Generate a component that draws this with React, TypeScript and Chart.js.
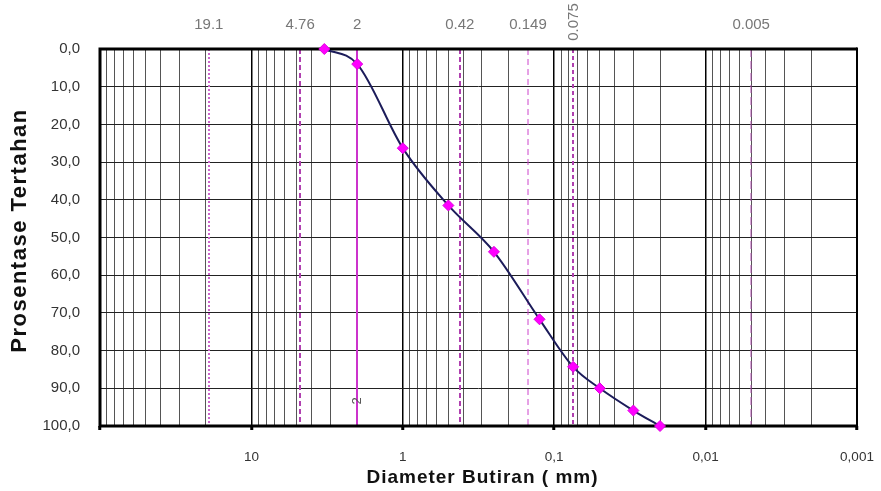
import React, { useEffect, useRef } from "react";
import { Chart, registerables } from "chart.js";

Chart.register(...registerables);

// Grain size data (diameter in mm, percentage retained)
const diameters = [3.3, 2.0, 1.0, 0.5, 0.25, 0.125, 0.075, 0.05, 0.03, 0.02];
const retained = [0.0, 4.0, 26.3, 41.5, 53.8, 71.7, 84.3, 90.0, 95.9, 100.0];

// Sieve reference lines
const sieveSizes = [19.1, 4.76, 2, 0.42, 0.149, 0.075, 0.005];
const sieveLabels = ["19.1", "4.76", "2", "0.42", "0.149", "0.075", "0.005"];
const sieveDash = [[2, 2], [5, 3], [], [5, 3], [6, 4], [4, 3], [8, 4]];
const sieveWidth = [2, 2, 2, 2, 1, 2, 1];
const sieveColor = ["#cc66cc", "#b040b0", "#cc33cc", "#b040b0", "#cc44cc", "#b040b0", "#b050b0"];

// Axis tick labels / titles
const xDecades = [100, 10, 1, 0.1, 0.01, 0.001];
const xDecadeLabels = ["", "10", "1", "0,1", "0,01", "0,001"];
const yMin = 0;
const yMax = 100;
const xTitle = "Diameter Butiran ( mm)";
const yTitle = "Prosentase Tertahan";

const FONT = "'Liberation Sans', Arial, Helvetica, sans-serif";

function isDecade(v: number) {
  return xDecades.some((d) => Math.abs(v - d) / d < 1e-6);
}

const decorPlugin = {
  id: "decor",
  beforeDatasetsDraw(chart: any) {
    const { ctx, chartArea } = chart;
    const xs = chart.scales.x;
    ctx.save();
    // reference sieve lines
    sieveSizes.forEach((s, i) => {
      const px = Math.round(xs.getPixelForValue(s));
      ctx.beginPath();
      ctx.setLineDash(sieveDash[i]);
      ctx.lineWidth = sieveWidth[i];
      ctx.strokeStyle = sieveColor[i];
      ctx.moveTo(px, chartArea.top);
      ctx.lineTo(px, chartArea.bottom);
      ctx.stroke();
    });
    ctx.setLineDash([]);
    // frame
    ctx.strokeStyle = "#000";
    ctx.lineWidth = 3;
    ctx.beginPath();
    ctx.moveTo(chartArea.left, chartArea.top);
    ctx.lineTo(chartArea.right, chartArea.top);
    ctx.moveTo(chartArea.left, chartArea.bottom);
    ctx.lineTo(chartArea.right, chartArea.bottom);
    ctx.moveTo(chartArea.left, chartArea.top - 1.5);
    ctx.lineTo(chartArea.left, chartArea.bottom + 1.5);
    ctx.stroke();
    ctx.lineWidth = 2;
    ctx.beginPath();
    ctx.moveTo(chartArea.right, chartArea.top - 1.5);
    ctx.lineTo(chartArea.right, chartArea.bottom + 1.5);
    ctx.stroke();
    // labels of sieve lines above the plot
    ctx.fillStyle = "#777";
    ctx.font = `15px ${FONT}`;
    ctx.textAlign = "center";
    ctx.textBaseline = "middle";
    sieveSizes.forEach((s, i) => {
      const px = xs.getPixelForValue(s);
      if (sieveLabels[i] === "0.075") {
        ctx.save();
        ctx.translate(px + 1, 22);
        ctx.rotate(-Math.PI / 2);
        ctx.fillText(sieveLabels[i], 0, 0);
        ctx.restore();
      } else {
        ctx.fillText(sieveLabels[i], px, 25);
      }
    });
    // small label at bottom of the 2 mm line
    const p2 = xs.getPixelForValue(2);
    ctx.save();
    ctx.fillStyle = "#555";
    ctx.font = `13px ${FONT}`;
    ctx.translate(p2, 401);
    ctx.rotate(-Math.PI / 2);
    ctx.fillText("2", 0, 0);
    ctx.restore();
    ctx.restore();
  },
  afterDraw(chart: any) {
    const { ctx, chartArea } = chart;
    ctx.save();
    ctx.fillStyle = "#111";
    ctx.textAlign = "center";
    ctx.textBaseline = "middle";
    ctx.font = `bold 19px ${FONT}`;
    (ctx as any).letterSpacing = "1px";
    ctx.fillText(xTitle, (chartArea.left + chartArea.right) / 2 + 4, 478);
    ctx.font = `bold 22px ${FONT}`;
    (ctx as any).letterSpacing = "1.5px";
    ctx.translate(20, (chartArea.top + chartArea.bottom) / 2 - 7);
    ctx.rotate(-Math.PI / 2);
    ctx.fillText(yTitle, 0, 0);
    (ctx as any).letterSpacing = "0px";
    ctx.restore();
  },
};

export default function App() {
  const ref = useRef<HTMLCanvasElement | null>(null);

  useEffect(() => {
    if (!ref.current) return;
    const gridValues: number[] = [];
    for (let e = -3; e <= 1; e++) {
      for (let m = 1; m <= 9; m++) gridValues.push(m * Math.pow(10, e));
    }
    gridValues.push(100);

    const chart = new Chart(ref.current, {
      type: "line",
      data: {
        datasets: [
          {
            data: diameters.map((d, i) => ({ x: d, y: retained[i] })),
            borderColor: "#1c1c5a",
            borderWidth: 2,
            cubicInterpolationMode: "monotone",
            pointStyle: "rectRot",
            pointRadius: 5.5,
            pointBackgroundColor: "#ff00ff",
            pointBorderColor: "#dd00dd",
            pointBorderWidth: 1,
            clip: false,
          } as any,
        ],
      },
      options: {
        animation: false,
        responsive: false,
        devicePixelRatio: 1,
        layout: { padding: { top: 49, right: 24, left: 0, bottom: 0 } },
        plugins: { legend: { display: false }, tooltip: { enabled: false } },
        scales: {
          x: {
            type: "logarithmic",
            reverse: true,
            min: 0.001,
            max: 100,
            afterFit: (s: any) => {
              s.height = 65;
            },
            afterBuildTicks: (s: any) => {
              s.ticks = gridValues.map((v) => ({ value: v }));
            },
            grid: {
              color: (c: any) => (isDecade(c.tick?.value) ? "#000" : "#555"),
              lineWidth: (c: any) => (isDecade(c.tick?.value) ? 1.5 : 1),
              drawTicks: true,
              tickLength: 4,
              tickColor: (c: any) => (isDecade(c.tick?.value) ? "#000" : "rgba(0,0,0,0)"),
              tickWidth: 3,
            },
            border: { display: false },
            ticks: {
              autoSkip: false,
              maxRotation: 0,
              padding: 19,
              color: "#333",
              font: { family: FONT, size: 13.5 },
              callback: (v: any) => {
                const idx = xDecades.findIndex((d) => Math.abs(Number(v) - d) / d < 1e-6);
                return idx >= 0 ? xDecadeLabels[idx] : "";
              },
            },
          },
          y: {
            min: yMin,
            max: yMax,
            reverse: true,
            afterFit: (s: any) => {
              s.width = 100;
            },
            grid: {
              color: (c: any) => (c.tick?.value % 10 === 0 ? "#222" : "#b4c6d6"),
              lineWidth: 1,
              drawTicks: false,
            },
            border: { display: false },
            ticks: {
              stepSize: 5,
              padding: 20,
              color: "#333",
              font: { family: FONT, size: 15 },
              callback: (v: any) => (Number(v) % 10 === 0 ? Number(v).toFixed(1).replace(".", ",") : ""),
            },
          },
        },
      },
      plugins: [decorPlugin],
    });
    return () => chart.destroy();
  }, []);

  return (
    <div style={{ position: "absolute", left: 0, top: 0, width: 881, height: 491, background: "#fff" }}>
      <canvas ref={ref} width={881} height={491} style={{ width: 881, height: 491 }} />
    </div>
  );
}
